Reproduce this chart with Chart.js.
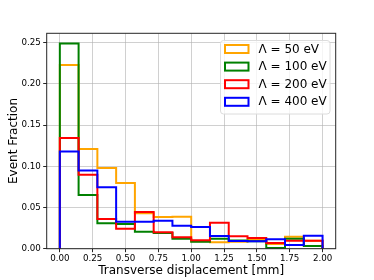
<!DOCTYPE html>
<html>
<head>
<meta charset="utf-8">
<script src="https://cdn.jsdelivr.net/npm/chart.js@4/dist/chart.umd.min.js"></script>
<style>
  html, body { margin: 0; padding: 0; background: #fff; }
  #wrap { width: 374px; height: 280px; }
</style>
</head>
<body>
<div id="wrap"><canvas id="c" width="374" height="280"></canvas></div>
<script>
// Bin edges (14 bins from 0 to 2.0 mm)
const binEdges = [0, 0.142857, 0.285714, 0.428571, 0.571429, 0.714286, 0.857143, 1.0,
                  1.142857, 1.285714, 1.428571, 1.571429, 1.714286, 1.857143, 2.0];
const seriesLabels = ['Λ = 50 eV', 'Λ = 100 eV', 'Λ = 200 eV', 'Λ = 400 eV'];
const seriesColors = ['#ffa500', '#008000', '#ff0000', '#0000ff'];

const lambda50  = [0.223, 0.121, 0.098, 0.0796, 0.043, 0.0386, 0.0388, 0.009, 0.0078, 0.0085, 0.011, 0.0057, 0.0145, 0.0095];
const lambda100 = [0.249, 0.0653, 0.031, 0.030, 0.0207, 0.0192, 0.0122, 0.0085, 0.0122, 0.0100, 0.0090, 0.0008, 0.0122, 0.0033];
const lambda200 = [0.1345, 0.0897, 0.036, 0.0243, 0.0445, 0.0200, 0.0139, 0.0102, 0.0316, 0.0150, 0.0130, 0.0068, 0.0097, 0.0097];
const lambda400 = [0.118, 0.0949, 0.0747, 0.0328, 0.0328, 0.0340, 0.0280, 0.0264, 0.0155, 0.0092, 0.0090, 0.0116, 0.0045, 0.0157];

const xTickValues = [0, 0.25, 0.5, 0.75, 1.0, 1.25, 1.5, 1.75, 2.0];
const yTickValues = [0, 0.05, 0.10, 0.15, 0.20, 0.25];

const allSeries = [lambda50, lambda100, lambda200, lambda400];

function stepOutline(values) {
  const pts = [{x: binEdges[0], y: 0}];
  for (let i = 0; i < values.length; i++) {
    pts.push({x: binEdges[i], y: values[i]});
    pts.push({x: binEdges[i + 1], y: values[i]});
  }
  pts.push({x: binEdges[binEdges.length - 1], y: 0});
  return pts;
}

const xSpan = binEdges[binEdges.length - 1] - binEdges[0];
const xMin = binEdges[0] - 0.05 * xSpan;
const xMax = binEdges[binEdges.length - 1] + 0.05 * xSpan;
const yMax = Math.max(...allSeries.flat()) * 1.05;

const FONT = "'DejaVu Sans', sans-serif";

const framePlugin = {
  id: 'frame',
  afterDatasetsDraw(chart) {
    const {ctx, chartArea: a} = chart;
    ctx.save();
    ctx.strokeStyle = '#262626';
    ctx.lineWidth = 1;
    ctx.strokeRect(a.left, a.top, a.right - a.left, a.bottom - a.top);
    ctx.restore();
  }
};

const legendPlugin = {
  id: 'insideLegend',
  afterDraw(chart) {
    const {ctx} = chart;
    const ds = chart.data.datasets;
    const boxX = 220, boxY = 40, boxW = 109.5, boxH = 73.5;
    ctx.save();
    ctx.beginPath();
    if (ctx.roundRect) ctx.roundRect(boxX + 0.5, boxY + 0.5, boxW, boxH, 3);
    else ctx.rect(boxX + 0.5, boxY + 0.5, boxW, boxH);
    ctx.fillStyle = 'rgba(255,255,255,0.8)';
    ctx.fill();
    ctx.strokeStyle = '#dcdcdc';
    ctx.lineWidth = 1;
    ctx.stroke();
    ctx.font = "12px " + FONT;
    ctx.textBaseline = 'middle';
    ctx.textAlign = 'left';
    for (let i = 0; i < ds.length; i++) {
      const cy = 49 + i * 17.6;
      ctx.strokeStyle = ds[i].borderColor;
      ctx.lineWidth = 2;
      ctx.strokeRect(225, cy - 4, 23.5, 8);
      ctx.fillStyle = '#000';
      ctx.fillText(ds[i].label, 258.5, cy + 0.5);
    }
    ctx.restore();
  }
};

const GRID = 'rgba(176,176,176,0.6)';

new Chart(document.getElementById('c'), {
  type: 'line',
  data: {
    datasets: allSeries.map((vals, i) => ({
      label: seriesLabels[i],
      data: stepOutline(vals),
      borderColor: seriesColors[i],
      backgroundColor: seriesColors[i],
      borderWidth: 2,
      pointRadius: 0,
      tension: 0,
      fill: false,
      order: allSeries.length - i,
      borderJoinStyle: 'miter',
      borderCapStyle: 'butt'
    }))
  },
  options: {
    responsive: false,
    animation: false,
    events: [],
    layout: { padding: { left: 0, right: 38.3, top: 33.3, bottom: 0 } },
    plugins: { legend: { display: false }, tooltip: { enabled: false } },
    scales: {
      x: {
        type: 'linear',
        min: xMin,
        max: xMax,
        afterBuildTicks(scale) { scale.ticks = xTickValues.map(v => ({value: v})); },
        afterFit(scale) { scale.height = 31.3; },
        grid: { color: GRID, lineWidth: 1, drawTicks: true, tickLength: 3.5, tickColor: '#262626', tickWidth: 1 },
        border: { display: false },
        ticks: {
          color: '#000', padding: 1.5, maxRotation: 0, autoSkip: false,
          font: { family: FONT, size: 8.7 },
          callback: v => Number(v).toFixed(2)
        },
        title: { display: true, text: 'Transverse displacement [mm]', color: '#000',
                 font: { family: FONT, size: 12 }, padding: { top: 0, bottom: 1.5 } }
      },
      y: {
        type: 'linear',
        min: 0,
        max: yMax,
        afterBuildTicks(scale) { scale.ticks = yTickValues.map(v => ({value: v})); },
        afterFit(scale) { scale.width = 46.7; },
        grid: { color: GRID, lineWidth: 1, drawTicks: true, tickLength: 3.5, tickColor: '#262626', tickWidth: 1 },
        border: { display: false },
        ticks: {
          color: '#000', padding: 2.3, autoSkip: false,
          font: { family: FONT, size: 8.7 },
          callback: v => Number(v).toFixed(2)
        },
        title: { display: true, text: 'Event Fraction', color: '#000',
                 font: { family: FONT, size: 12 }, padding: { top: 6.8, bottom: 0 } }
      }
    }
  },
  plugins: [framePlugin, legendPlugin]
});
</script>
</body>
</html>
